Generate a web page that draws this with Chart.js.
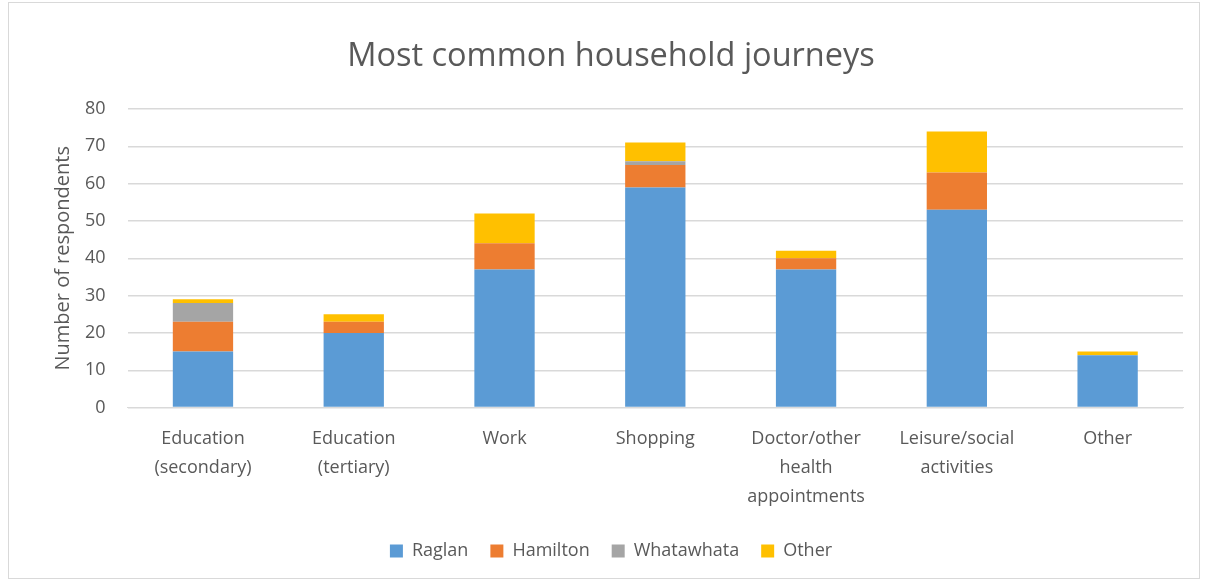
<!DOCTYPE html>
<html>
<head>
<meta charset="utf-8">
<script src="https://cdn.jsdelivr.net/npm/chart.js@4/dist/chart.umd.min.js"></script>
<style>
  body { margin: 0; background: #fff; }
  #wrap { position: absolute; left: 8px; top: 2px; width: 1192px; height: 577px; border: 1px solid #d9d9d9; box-sizing: border-box; }
  canvas { display: block; }
</style>
</head>
<body>
<div id="wrap"><canvas id="c"></canvas></div>
<script>
const categories = [
  ["Education", "(secondary)"],
  ["Education", "(tertiary)"],
  "Work",
  "Shopping",
  ["Doctor/other", "health", "appointments"],
  ["Leisure/social", "activities"],
  "Other"
];
const raglan     = [15, 20, 37, 59, 37, 53, 14];
const hamilton   = [8, 3, 7, 6, 3, 10, 0];
const whatawhata = [5, 0, 0, 1, 0, 0, 0];
const other      = [1, 2, 8, 5, 2, 11, 1];

const txt = "#595959";
const font = "'Open Sans', 'Liberation Sans', sans-serif";

new Chart(document.getElementById("c"), {
  type: "bar",
  data: {
    labels: categories,
    datasets: [
      { label: "Raglan", data: raglan, backgroundColor: "#5B9BD5" },
      { label: "Hamilton", data: hamilton, backgroundColor: "#ED7D31" },
      { label: "Whatawhata", data: whatawhata, backgroundColor: "#A5A5A5" },
      { label: "Other", data: other, backgroundColor: "#FFC000" }
    ]
  },
  options: {
    responsive: true,
    maintainAspectRatio: false,
    animation: false,
    layout: { padding: { left: 30, right: 16, top: 14, bottom: 8 } },
    datasets: { bar: { categoryPercentage: 1, barPercentage: 0.4 } },
    scales: {
      x: {
        stacked: true,
        grid: { display: false },
        border: { color: "#d9d9d9" },
        ticks: { color: txt, font: { family: font, size: 18, lineHeight: 1.6 }, maxRotation: 0, padding: 9 }
      },
      y: {
        stacked: true,
        min: 0, max: 80,
        ticks: { stepSize: 10, color: txt, font: { family: font, size: 18 }, padding: 22 },
        grid: { color: "#d9d9d9", lineWidth: 1.5, drawTicks: false },
        border: { display: false },
        title: { display: true, text: "Number of respondents", color: txt, font: { family: font, size: 20 }, padding: { top: 12, bottom: -12 } }
      }
    },
    plugins: {
      title: {
        display: true, text: "Most common household journeys", color: txt,
        font: { family: font, size: 32.5, weight: "normal" }, padding: { top: 20, bottom: 33 }
      },
      legend: {
        position: "bottom",
        labels: { color: txt, font: { family: font, size: 18 }, boxWidth: 13, boxHeight: 13, padding: 22 }
      },
      tooltip: { enabled: false }
    }
  }
});
</script>
</body>
</html>
